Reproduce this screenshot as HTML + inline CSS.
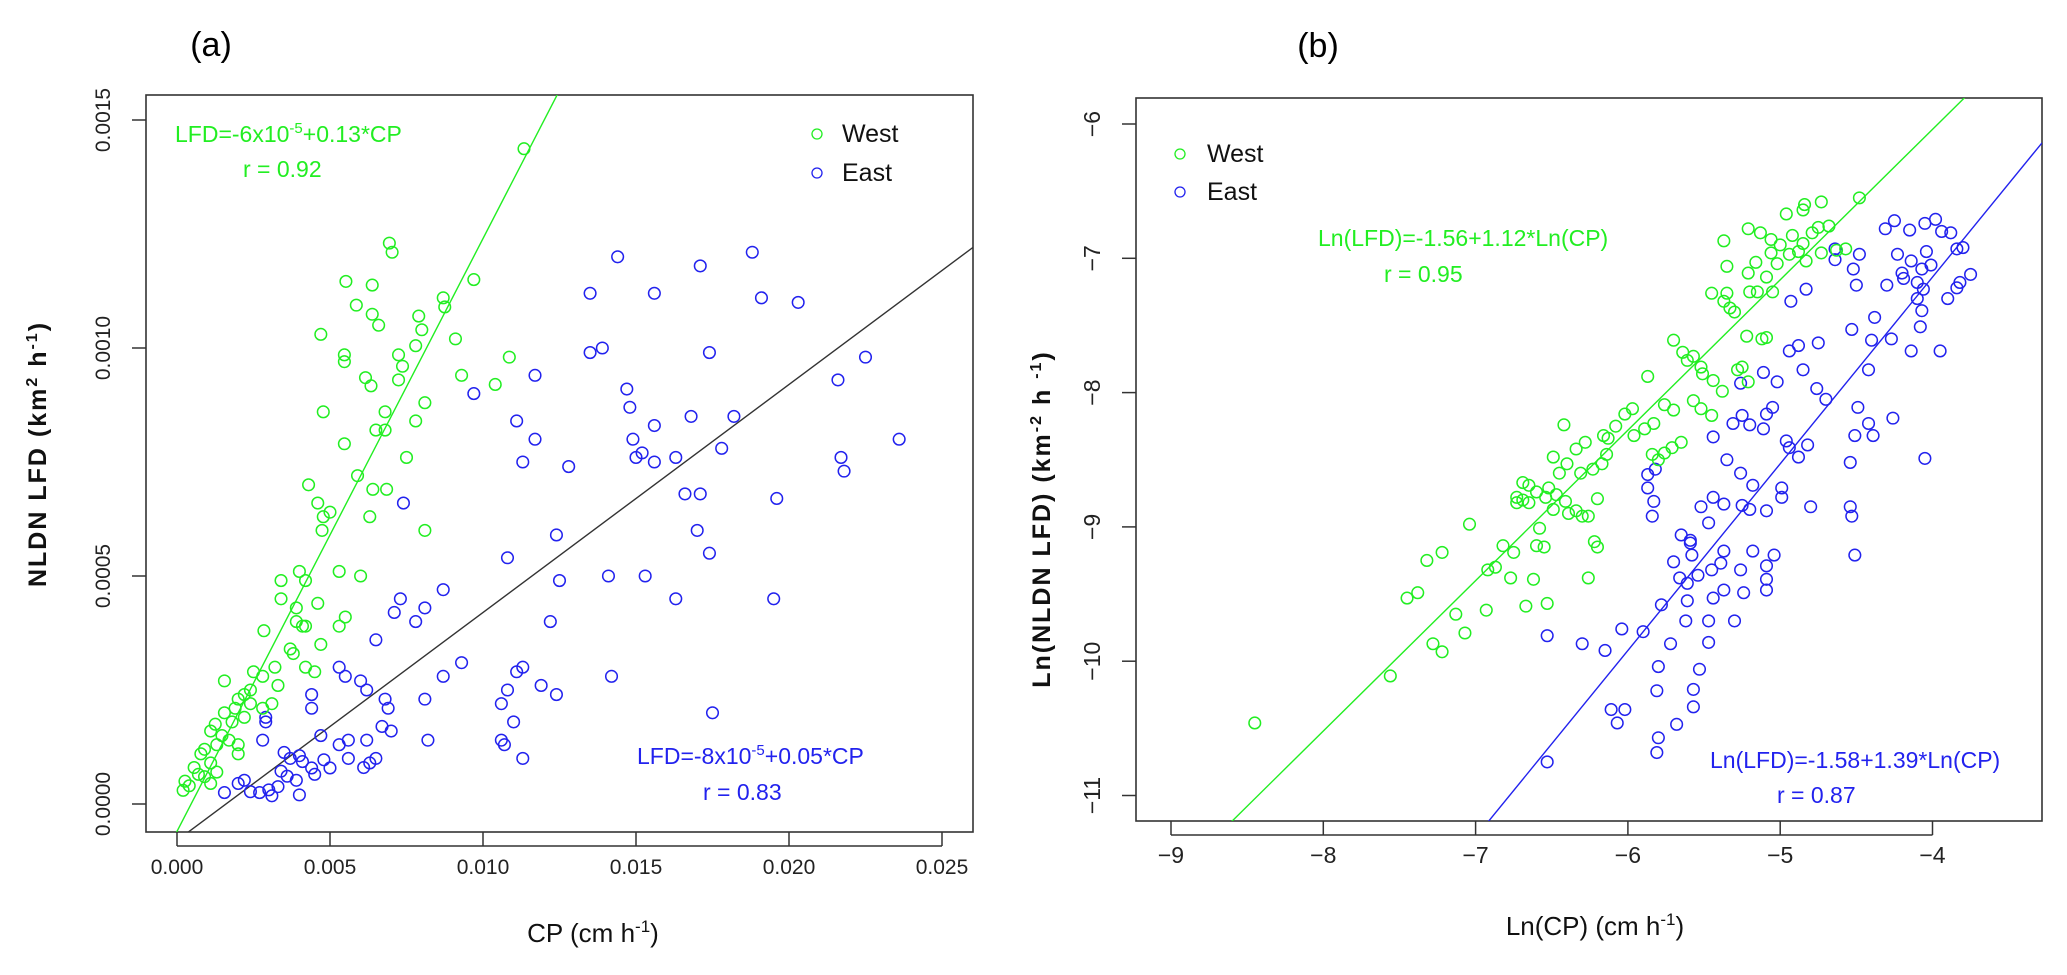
<!DOCTYPE html>
<html><head><meta charset="utf-8"><style>
html,body{margin:0;padding:0;background:#fff;width:2067px;height:975px;overflow:hidden}
svg{display:block;font-family:"Liberation Sans",sans-serif}
</style></head><body>
<svg id="fig" width="2067" height="975" viewBox="0 0 2067 975">
<text x="211" y="56" font-size="34" text-anchor="middle">(a)</text>
<text x="1318" y="57" font-size="34" text-anchor="middle">(b)</text>
<g id="pa"></g>
<g id="pb"></g>
</svg>
<script>
// ---------- Panel (a) data ----------
const aWestCP=[0.01134,0.00694,0.00703,0.00552,0.00638,0.00586,0.00638,0.00659,0.0047,0.0097,0.0087,0.00875,0.0079,0.008,0.0091,0.00547,0.00547,0.00724,0.00737,0.0078,0.01086,0.0093,0.0104,0.00616,0.00634,0.00724,0.0081,0.00478,0.0068,0.0068,0.0078,0.0065,0.00547,0.0075,0.0059,0.0064,0.00685,0.0043,0.0046,0.005,0.00478,0.00474,0.0063,0.0081,0.0053,0.006,0.004,0.0042,0.0034,0.0034,0.0046,0.0039,0.0055,0.0053,0.0039,0.0041,0.0042,0.00284,0.0047,0.0037,0.0038,0.0032,0.0025,0.0028,0.0042,0.0045,0.00155,0.0022,0.0024,0.0033,0.0031,0.0028,0.002,0.0019,0.00155,0.0018,0.00125,0.0011,0.00147,0.0013,0.0017,0.002,0.0009,0.00078,0.0011,0.00056,0.0007,0.0013,0.002,0.00026,0.0004,0.0002,0.0009,0.0011,0.0024,0.0022];
const aWestLFD=[0.001437,0.00123,0.00121,0.001146,0.001138,0.001094,0.001074,0.00105,0.00103,0.00115,0.00111,0.00109,0.00107,0.00104,0.00102,0.000985,0.00097,0.000985,0.00096,0.001005,0.00098,0.00094,0.00092,0.000935,0.000917,0.00093,0.00088,0.00086,0.00086,0.00082,0.00084,0.00082,0.00079,0.00076,0.00072,0.00069,0.00069,0.0007,0.00066,0.00064,0.00063,0.0006,0.00063,0.0006,0.00051,0.0005,0.00051,0.00049,0.00049,0.00045,0.00044,0.00043,0.00041,0.00039,0.0004,0.00039,0.00039,0.00038,0.00035,0.00034,0.00033,0.0003,0.00029,0.00028,0.0003,0.00029,0.00027,0.00024,0.00025,0.00026,0.00022,0.00021,0.00023,0.00021,0.0002,0.00018,0.000175,0.00016,0.00015,0.00013,0.00014,0.00013,0.00012,0.00011,0.00009,0.00008,0.000065,0.00007,0.00011,0.00005,0.00004,0.00003,0.00006,0.000045,0.00022,0.00019];
const aEastCP=[0.0144,0.0188,0.0171,0.0135,0.0156,0.0191,0.0203,0.0135,0.0139,0.0174,0.0225,0.0117,0.0097,0.0147,0.0148,0.0216,0.0111,0.0117,0.0182,0.0156,0.0168,0.0149,0.0178,0.0236,0.0113,0.0128,0.0152,0.015,0.0156,0.0163,0.0217,0.0218,0.0166,0.0171,0.0196,0.0074,0.017,0.0174,0.0124,0.0108,0.0141,0.0153,0.0125,0.0087,0.0073,0.0081,0.0071,0.0078,0.0163,0.0195,0.0122,0.0065,0.0093,0.0087,0.0081,0.0053,0.0055,0.006,0.0062,0.0044,0.0044,0.0068,0.0069,0.0113,0.0111,0.0108,0.0106,0.011,0.0142,0.0119,0.0124,0.0175,0.0029,0.0028,0.0029,0.0067,0.007,0.0106,0.0107,0.0113,0.0082,0.0047,0.0053,0.0056,0.0062,0.0056,0.0063,0.0065,0.0061,0.0035,0.0037,0.004,0.0041,0.0044,0.0034,0.0036,0.0039,0.0033,0.003,0.0027,0.0024,0.0022,0.002,0.00155,0.0031,0.004,0.0045,0.005,0.0048];
const aEastLFD=[0.0012,0.00121,0.00118,0.00112,0.00112,0.00111,0.0011,0.00099,0.001,0.00099,0.00098,0.00094,0.0009,0.00091,0.00087,0.00093,0.00084,0.0008,0.00085,0.00083,0.00085,0.0008,0.00078,0.0008,0.00075,0.00074,0.00077,0.00076,0.00075,0.00076,0.00076,0.00073,0.00068,0.00068,0.00067,0.00066,0.0006,0.00055,0.00059,0.00054,0.0005,0.0005,0.00049,0.00047,0.00045,0.00043,0.00042,0.0004,0.00045,0.00045,0.0004,0.00036,0.00031,0.00028,0.00023,0.0003,0.00028,0.00027,0.00025,0.00024,0.00021,0.00023,0.00021,0.0003,0.00029,0.00025,0.00022,0.00018,0.00028,0.00026,0.00024,0.0002,0.00019,0.00014,0.00018,0.00017,0.00016,0.00014,0.00013,0.0001,0.00014,0.00015,0.00013,0.00014,0.00014,0.0001,0.00009,0.0001,0.00008,0.000113,0.0001,0.000106,0.000093,0.000079,0.000072,0.000061,0.000052,0.000038,0.000031,0.000025,0.000027,0.000052,0.000045,0.000025,0.000018,0.00002,0.000065,0.000079,0.000097];
const aXTicks=[0,0.005,0.010,0.015,0.020,0.025];
const aXTickLabels=["0.000","0.005","0.010","0.015","0.020","0.025"];
const aYTicks=[0,0.0005,0.0010,0.0015];
const aYTickLabels=["0.0000","0.0005","0.0010","0.0015"];
const aWestFit=[-6e-5,0.13];
const aEastFit=[-8e-5,0.05];
// ---------- Panel (b) data ----------
const bWestX=[-8.45,-7.56,-7.28,-7.22,-7.13,-7.07,-7.45,-7.38,-7.32,-7.22,-6.92,-6.87,-6.82,-6.75,-6.77,-6.62,-6.67,-6.53,-6.93,-7.04,-6.60,-6.55,-6.26,-6.22,-6.20,-6.73,-6.69,-6.65,-6.73,-6.69,-6.65,-6.60,-6.52,-6.54,-6.47,-6.41,-6.49,-6.39,-6.30,-6.34,-6.26,-6.20,-6.58,-6.49,-6.40,-6.45,-6.34,-6.28,-6.31,-6.23,-6.42,-6.16,-6.13,-6.08,-6.02,-5.97,-6.14,-6.17,-5.96,-5.89,-5.83,-5.84,-5.80,-5.76,-5.71,-5.65,-5.87,-5.70,-5.64,-5.57,-5.61,-5.52,-5.51,-5.76,-5.70,-5.57,-5.52,-5.45,-5.38,-5.44,-5.28,-5.25,-5.21,-5.12,-5.09,-5.22,-5.45,-5.37,-5.33,-5.30,-5.20,-5.15,-5.05,-5.35,-5.21,-5.09,-5.06,-5.00,-4.94,-4.88,-4.83,-5.37,-5.21,-5.13,-5.06,-4.96,-4.92,-4.85,-4.79,-4.75,-4.73,-4.68,-4.63,-4.57,-4.48,-4.73,-4.84,-4.85,-5.35,-5.16,-5.02];
const bWestY=[-10.46,-10.11,-9.87,-9.93,-9.65,-9.79,-9.53,-9.49,-9.25,-9.19,-9.32,-9.30,-9.14,-9.19,-9.38,-9.39,-9.59,-9.57,-9.62,-8.98,-9.14,-9.15,-9.38,-9.11,-9.15,-8.78,-8.80,-8.82,-8.82,-8.67,-8.69,-8.74,-8.71,-8.78,-8.76,-8.81,-8.87,-8.90,-8.92,-8.88,-8.92,-8.79,-9.01,-8.48,-8.53,-8.60,-8.42,-8.37,-8.60,-8.57,-8.24,-8.32,-8.34,-8.25,-8.16,-8.12,-8.46,-8.53,-8.32,-8.27,-8.23,-8.46,-8.50,-8.45,-8.41,-8.37,-7.88,-7.61,-7.70,-7.73,-7.76,-7.81,-7.86,-8.09,-8.13,-8.06,-8.12,-8.17,-7.99,-7.91,-7.83,-7.81,-7.92,-7.60,-7.59,-7.58,-7.26,-7.32,-7.37,-7.40,-7.25,-7.25,-7.25,-7.06,-7.11,-7.14,-6.96,-6.90,-6.97,-6.95,-7.02,-6.87,-6.78,-6.81,-6.86,-6.67,-6.83,-6.89,-6.81,-6.77,-6.96,-6.76,-6.94,-6.93,-6.55,-6.58,-6.60,-6.64,-7.26,-7.03,-7.04];
const bEastX=[-6.53,-6.07,-6.11,-6.02,-5.80,-5.81,-5.68,-5.57,-5.57,-5.53,-5.80,-5.81,-6.30,-6.15,-6.04,-5.90,-6.53,-5.72,-5.62,-5.47,-5.30,-5.47,-5.78,-5.61,-5.44,-5.37,-5.24,-5.09,-5.09,-5.26,-5.39,-5.45,-5.54,-5.61,-5.66,-5.70,-5.58,-5.37,-5.18,-5.04,-5.09,-5.65,-5.59,-5.59,-5.47,-5.87,-5.83,-5.84,-5.52,-5.44,-5.37,-5.25,-5.20,-5.09,-4.99,-4.99,-5.18,-5.26,-5.35,-5.87,-5.82,-5.44,-5.31,-5.25,-5.20,-5.11,-5.09,-5.05,-4.96,-4.94,-4.88,-4.82,-4.70,-4.51,-4.49,-4.42,-4.39,-4.26,-4.05,-4.54,-4.54,-4.53,-4.51,-4.80,-5.26,-5.11,-5.02,-4.94,-4.88,-4.75,-4.85,-4.76,-4.93,-4.83,-4.64,-4.53,-4.40,-4.27,-4.14,-3.95,-4.42,-4.38,-4.30,-4.19,-4.10,-4.06,-4.52,-4.50,-4.31,-4.25,-4.15,-4.05,-3.98,-3.94,-3.88,-4.23,-4.20,-4.14,-4.07,-4.04,-4.01,-3.84,-3.80,-3.75,-3.82,-3.84,-3.90,-4.10,-4.07,-4.08,-4.64,-4.48];
const bEastY=[-10.75,-10.46,-10.36,-10.36,-10.57,-10.68,-10.47,-10.34,-10.21,-10.06,-10.04,-10.22,-9.87,-9.92,-9.76,-9.78,-9.81,-9.87,-9.70,-9.70,-9.70,-9.86,-9.58,-9.55,-9.53,-9.47,-9.49,-9.47,-9.39,-9.32,-9.27,-9.32,-9.36,-9.42,-9.38,-9.26,-9.21,-9.18,-9.18,-9.21,-9.29,-9.06,-9.10,-9.12,-8.97,-8.71,-8.81,-8.92,-8.85,-8.78,-8.83,-8.84,-8.87,-8.88,-8.78,-8.71,-8.69,-8.60,-8.50,-8.61,-8.57,-8.33,-8.23,-8.17,-8.24,-8.27,-8.16,-8.11,-8.36,-8.41,-8.48,-8.39,-8.05,-8.32,-8.11,-8.23,-8.32,-8.19,-8.49,-8.52,-8.85,-8.92,-9.21,-8.85,-7.93,-7.85,-7.92,-7.69,-7.65,-7.63,-7.83,-7.97,-7.32,-7.23,-7.01,-7.53,-7.61,-7.60,-7.69,-7.69,-7.83,-7.44,-7.20,-7.15,-7.18,-7.23,-7.08,-7.20,-6.78,-6.72,-6.79,-6.74,-6.71,-6.80,-6.81,-6.97,-7.11,-7.02,-7.08,-6.95,-7.05,-6.93,-6.92,-7.12,-7.18,-7.22,-7.30,-7.30,-7.39,-7.51,-6.93,-6.97];
const bXTicks=[-9,-8,-7,-6,-5,-4];
const bXTickLabels=["\u22129","\u22128","\u22127","\u22126","\u22125","\u22124"];
const bYTicks=[-6,-7,-8,-9,-10,-11];
const bYTickLabels=["\u22126","\u22127","\u22128","\u22129","\u221210","\u221211"];
const bWestFit=[-1.56,1.12];
const bEastFit=[-1.58,1.39];

const NS="http://www.w3.org/2000/svg";
function mk(parent,tag,attrs){const e=document.createElementNS(NS,tag);for(const k in attrs)e.setAttribute(k,attrs[k]);parent.appendChild(e);return e;}
const GREEN="#22ee22",BLUE="#2222ee";

function panel(g,cfg){
  const L=cfg.box[0],T=cfg.box[1],R=cfg.box[2],B=cfg.box[3];
  const sx=v=>cfg.x0px+(v-cfg.x0)*cfg.xpx;
  const sy=v=>cfg.y0px-(v-cfg.y0)*cfg.ypx;
  const ix=p=>cfg.x0+(p-cfg.x0px)/cfg.xpx;
  const clip=mk(g,'clipPath',{id:cfg.id+'clip'});
  mk(clip,'rect',{x:L,y:T,width:R-L,height:B-T});
  const box=mk(g,'rect',{x:L,y:T,width:R-L,height:B-T,fill:'none',stroke:'#333','stroke-width':1.6});
  
  
  cfg.xt.forEach((v,i)=>{
    const x=sx(v);
    const t=mk(g,'line',{x1:x,x2:x,y1:B,y2:B+14,stroke:'#333','stroke-width':1.5});
    
    
    const l=mk(g,'text',{x:x,y:B+42,'font-size':cfg.tfs,'text-anchor':'middle',fill:'#222'});
    l.textContent=cfg.xtl[i];
    
    
  });
  const ax=mk(g,'line',{x1:sx(cfg.xt[0]),x2:sx(cfg.xt[cfg.xt.length-1]),y1:B+14,y2:B+14,stroke:'#333','stroke-width':1.5});
  
  
  cfg.yt.forEach((v,i)=>{
    const y=sy(v);
    const t=mk(g,'line',{x1:L-14,x2:L,y1:y,y2:y,stroke:'#333','stroke-width':1.5});
    
    
    const lx=L-cfg.ylabOff;
    const l=mk(g,'text',{x:lx,y:y,'font-size':cfg.tfs,'text-anchor':'middle',fill:'#222',transform:`rotate(-90 ${lx} ${y})`});
    l.textContent=cfg.ytl[i];
    
    
  });
  const lg=mk(g,'g',{'clip-path':`url(#${cfg.id}clip)`});
  cfg.fits.forEach(f=>{
    const xa=ix(L),xb=ix(R);
    const ln=mk(lg,'line',{x1:sx(xa),y1:sy(f.c[0]+f.c[1]*xa),x2:sx(xb),y2:sy(f.c[0]+f.c[1]*xb),stroke:f.col,'stroke-width':1.4});
    
    
  });
  cfg.series.forEach(s=>{
    s.x.forEach((v,i)=>{
      const c=mk(lg,'circle',{cx:sx(v),cy:sy(s.y[i]),r:5.8,fill:'none',stroke:s.col,'stroke-width':1.5});
      
      
    });
  });
}

panel(document.getElementById('pa'),{id:'a',box:[146,95,973,832],x0:0,x0px:177,xpx:30600,y0:0,y0px:804,ypx:456000,
  xt:aXTicks,xtl:aXTickLabels,yt:aYTicks,ytl:aYTickLabels,tfs:21,ylabOff:36,
  fits:[{c:aWestFit,col:GREEN,name:'west-fit-line'},{c:aEastFit,col:'#333',name:'east-fit-line'}],
  series:[{x:aEastCP,y:aEastLFD,col:BLUE,name:'east-point'},{x:aWestCP,y:aWestLFD,col:GREEN,name:'west-point'}]});
panel(document.getElementById('pb'),{id:'b',box:[1136,98,2042,821],x0:-9,x0px:1171,xpx:152.3,y0:-6,y0px:124,ypx:134.3,
  xt:bXTicks,xtl:bXTickLabels,yt:bYTicks,ytl:bYTickLabels,tfs:23,ylabOff:36,
  fits:[{c:bWestFit,col:GREEN,name:'west-fit-line'},{c:bEastFit,col:BLUE,name:'east-fit-line'}],
  series:[{x:bEastX,y:bEastY,col:BLUE,name:'east-point'},{x:bWestX,y:bWestY,col:GREEN,name:'west-point'}]});

const fig=document.getElementById('fig');
fig.insertAdjacentHTML('beforeend',`
<g font-size="23">
<text x="175" y="142" fill="#22ee22">LFD=-6x10<tspan dy="-9" font-size="15">-5</tspan><tspan dy="9">+0.13*CP</tspan></text>
<text x="243" y="177" fill="#22ee22">r = 0.92</text>
<circle cx="817" cy="134" r="5" fill="none" stroke="#22ee22" stroke-width="1.3"/>
<text x="842" y="142" fill="#111" font-size="25">West</text>
<circle cx="817" cy="173" r="5" fill="none" stroke="#2222ee" stroke-width="1.3"/>
<text x="842" y="181" fill="#111" font-size="25">East</text>
<text x="637" y="764" fill="#2222ee">LFD=-8x10<tspan dy="-9" font-size="15">-5</tspan><tspan dy="9">+0.05*CP</tspan></text>
<text x="703" y="800" fill="#2222ee">r = 0.83</text>
<text x="593" y="942" font-size="26" text-anchor="middle" fill="#111">CP (cm h<tspan dy="-10" font-size="17">-1</tspan><tspan dy="10">)</tspan></text>
<text x="46" y="454" font-size="25" font-weight="bold" letter-spacing="2" text-anchor="middle" fill="#111" transform="rotate(-90 46 454)">NLDN LFD (km<tspan dy="-9" font-size="16">2</tspan><tspan dy="9"> h</tspan><tspan dy="-9" font-size="16">-1</tspan><tspan dy="9">)</tspan></text>
<circle cx="1180" cy="154" r="5" fill="none" stroke="#22ee22" stroke-width="1.3"/>
<text x="1207" y="162" fill="#111" font-size="25">West</text>
<circle cx="1180" cy="192" r="5" fill="none" stroke="#2222ee" stroke-width="1.3"/>
<text x="1207" y="200" fill="#111" font-size="25">East</text>
<text x="1318" y="246" fill="#22ee22">Ln(LFD)=-1.56+1.12*Ln(CP)</text>
<text x="1384" y="282" fill="#22ee22">r = 0.95</text>
<text x="1710" y="768" fill="#2222ee">Ln(LFD)=-1.58+1.39*Ln(CP)</text>
<text x="1777" y="803" fill="#2222ee">r = 0.87</text>
<text x="1595" y="935" font-size="26" text-anchor="middle" fill="#111">Ln(CP) (cm h<tspan dy="-10" font-size="17">-1</tspan><tspan dy="10">)</tspan></text>
<text x="1050" y="519" font-size="25" font-weight="bold" letter-spacing="2" text-anchor="middle" fill="#111" transform="rotate(-90 1050 519)">Ln(NLDN LFD) (km<tspan dy="-9" font-size="16">-2</tspan><tspan dy="9"> h </tspan><tspan dy="-9" font-size="16">-1</tspan><tspan dy="9">)</tspan></text>
</g>`);
</script>
</body></html>
